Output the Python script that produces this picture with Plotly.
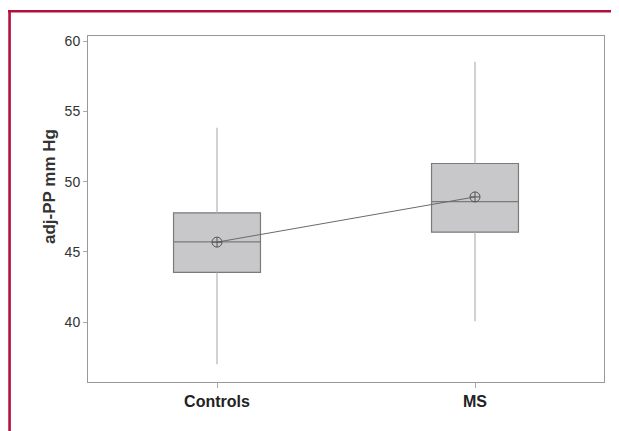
import plotly.graph_objects as go

groups = ["Controls", "MS"]
q1 = [43.54, 46.41]
median = [45.72, 48.59]
q3 = [47.79, 51.30]
whisker_low = [37.01, 40.07]
whisker_high = [53.84, 58.55]
means = [45.70, 48.92]
y_ticks = [40, 45, 50, 55, 60]
y_title = "adj-PP mm Hg"

fig = go.Figure()

# whiskers
for g, lo, hi, a, b in zip(groups, whisker_low, whisker_high, q1, q3):
    fig.add_trace(go.Scatter(x=[g, g, None, g, g], y=[lo, a, None, b, hi], mode="lines",
                             line=dict(color="#b4b4b4", width=1.2), hoverinfo="skip",
                             showlegend=False))

fig.add_trace(go.Box(
    x=groups, q1=q1, median=median, q3=q3,
    lowerfence=q1, upperfence=q3,
    width=0.337, whiskerwidth=0,
    fillcolor="#c8c8ca", line=dict(color="#7a7a7a", width=1.2),
    boxpoints=False, showlegend=False,
))

fig.add_trace(go.Scatter(
    x=groups, y=means, mode="lines+markers",
    line=dict(color="#6a6a6a", width=1),
    marker=dict(symbol="circle-cross-open", size=10, color="#555555",
                line=dict(width=1)),
    showlegend=False,
))

red = "#b3103c"
fig.add_shape(type="line", xref="paper", yref="paper", x0=-0.156, x1=1.05,
              y0=1.0714, y1=1.0714, line=dict(color=red, width=2.6))
fig.add_shape(type="line", xref="paper", yref="paper", x0=-0.152, x1=-0.152,
              y0=1.0750, y1=-0.2, line=dict(color=red, width=2.6))

fig.add_annotation(text="<b>" + y_title + "</b>", xref="paper", yref="paper",
                   x=-0.0736, y=0.5636, textangle=-90, showarrow=False,
                   xanchor="center", yanchor="middle",
                   font=dict(size=17, color="#333333"))

fig.update_layout(
    width=611, height=423,
    margin=dict(l=80, r=15, t=28, b=49),
    paper_bgcolor="white", plot_bgcolor="white",
    font=dict(family="Liberation Sans, Arial, sans-serif", color="#333333"),
    xaxis=dict(type="category", range=[-0.5, 1.5], showline=True, mirror=True,
               linecolor="#999999", linewidth=1, showgrid=False, zeroline=False,
               ticks="outside", ticklen=5, tickcolor="#aaaaaa",
               tickfont=dict(size=16, color="#222222", family="Liberation Sans, Arial, sans-serif"),
               tickprefix="<b>", ticksuffix="</b>"),
    yaxis=dict(range=[35.74, 60.38], tickvals=y_ticks, showline=True, mirror=True,
               linecolor="#999999", linewidth=1, showgrid=False, zeroline=False,
               ticks="outside", ticklen=4, tickcolor="#aaaaaa",
               tickfont=dict(size=14, color="#333333")),
)

fig.write_html("out.html")
